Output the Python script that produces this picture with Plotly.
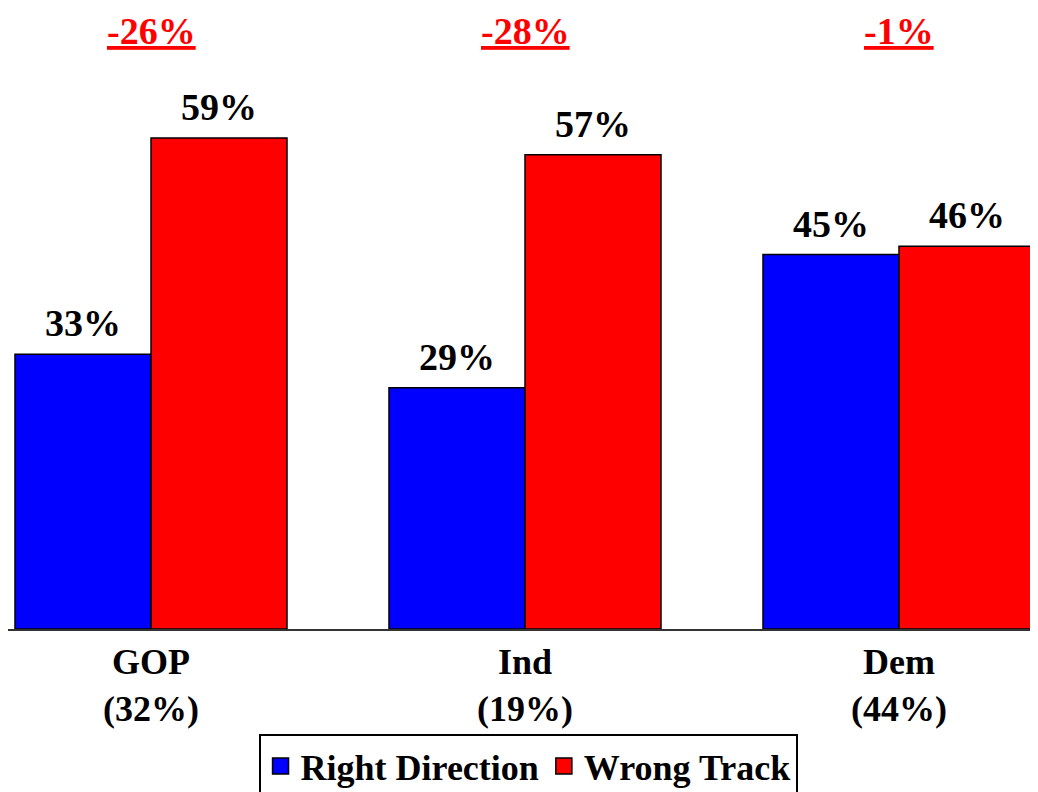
import plotly.graph_objects as go

categories = ["GOP<br>(32%)", "Ind<br>(19%)", "Dem<br>(44%)"]
right_direction = [33, 29, 45]
wrong_track = [59, 57, 46]
net_labels = ["-26%", "-28%", "-1%"]

BLUE = "#0000FF"
RED = "#FF0000"
FONT = "Liberation Serif"
BARGAP = 0.2727

xs = list(range(len(categories)))

fig = go.Figure()
fig.add_trace(go.Bar(x=xs, y=right_direction, name="Right Direction",
                     marker=dict(color=BLUE, line=dict(color="black", width=1.5)),
                     showlegend=False))
fig.add_trace(go.Bar(x=xs, y=wrong_track, name="Wrong Track",
                     marker=dict(color=RED, line=dict(color="black", width=1.5)),
                     showlegend=False))

# legend proxies
for nm, col in [("Right Direction", BLUE), ("Wrong Track", RED)]:
    fig.add_trace(go.Scatter(x=[None], y=[None], mode="markers", name=f"<b>{nm}</b>",
                             marker=dict(symbol="square", size=16, color=col,
                                         line=dict(color="black", width=1.5))))

half = (1 - BARGAP) / 4
annotations = []
for i in xs:
    for val, off in [(right_direction[i], -half), (wrong_track[i], half)]:
        annotations.append(dict(x=i + off, y=val, xref="x", yref="y",
                                text=f"<b>{val}%</b>", showarrow=False,
                                yanchor="bottom", yshift=8,
                                font=dict(family=FONT, size=38, color="black")))
    annotations.append(dict(x=i, y=1, xref="x", yref="paper",
                            text=f"<b><u>{net_labels[i]}</u></b>", showarrow=False,
                            yanchor="top", yshift=0,
                            font=dict(family=FONT, size=38, color=RED)))

fig.update_layout(
    width=1030, height=784,
    margin=dict(l=0, r=0, t=0, b=163, autoexpand=False),
    paper_bgcolor="white", plot_bgcolor="white",
    barmode="group", bargap=BARGAP, bargroupgap=0,
    annotations=annotations,
    showlegend=True,
    legend=dict(orientation="h", x=0.5049, xanchor="center", y=-0.1691, yanchor="top",
                bordercolor="black", borderwidth=2,
                font=dict(family=FONT, size=36, color="black"),
                itemsizing="trace"),
    xaxis=dict(range=[-0.38235, 2.37166], tickvals=xs,
               ticktext=[f"<b>{c}</b>" for c in categories],
               tickfont=dict(family=FONT, size=36, color="black"),
               showline=True, linecolor="#333333", linewidth=2,
               showgrid=False, zeroline=False, ticks=""),
    yaxis=dict(range=[0, 74.62], visible=False, showgrid=False, zeroline=False),
)

fig.write_html("out.html")
